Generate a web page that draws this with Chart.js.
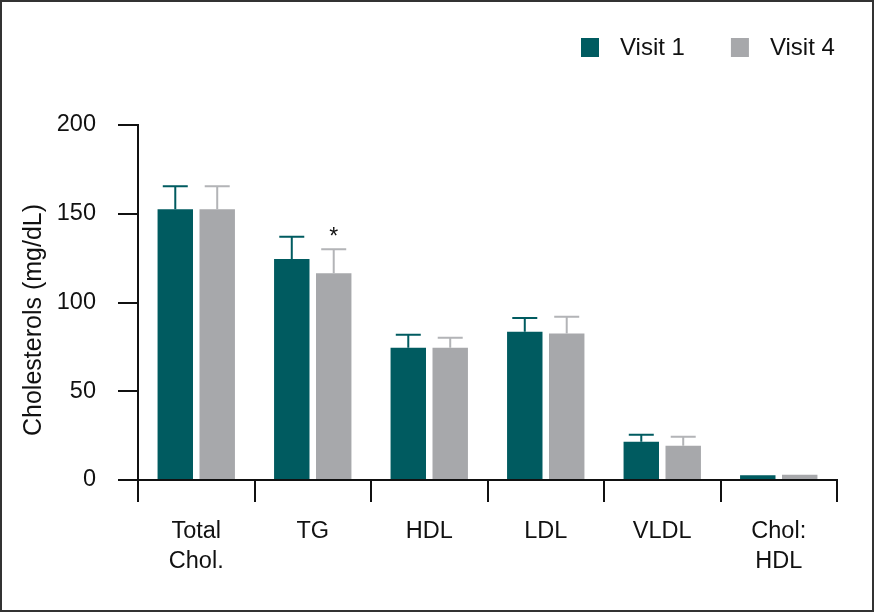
<!DOCTYPE html>
<html>
<head>
<meta charset="utf-8">
<script src="https://cdn.jsdelivr.net/npm/chart.js@4.4.1/dist/chart.umd.min.js"></script>
<style>
  html, body { margin: 0; padding: 0; background: #fff; }
  #wrap { width: 875px; height: 613px; }
</style>
</head>
<body>
<div id="wrap"><canvas id="chart" width="875" height="613"></canvas></div>
<script>
const categories = [['Total', 'Chol.'], 'TG', 'HDL', 'LDL', 'VLDL', ['Chol:', 'HDL']];
const visit1 = [152.5, 124.5, 74.5, 83.5, 21.5, 2.7];
const visit1Err = [13, 12.5, 7.3, 7.7, 4, 0];
const visit4 = [152.5, 116.5, 74.5, 82.5, 19.3, 3.0];
const visit4Err = [13, 13.5, 5.6, 9.5, 5, 0];
const yTicks = [0, 50, 100, 150, 200];
const starred = [{ dataset: 1, index: 1, text: '*' }];

const teal = '#005B60';
const grey = '#A7A8AB';
const ink = '#111111';
const font = 'Liberation Sans, Arial, sans-serif';

// error bars + significance marks
const errorBars = {
  id: 'errorBars',
  afterDatasetsDraw(chart) {
    const ctx = chart.ctx;
    const y = chart.scales.y;
    const errs = [visit1Err, visit4Err];
    const cols = [teal, '#B3B4B7'];
    chart.data.datasets.forEach((ds, di) => {
      chart.getDatasetMeta(di).data.forEach((bar, i) => {
        const err = errs[di][i];
        if (!err) return;
        const top = y.getPixelForValue(ds.data[i] + err);
        ctx.save();
        ctx.strokeStyle = cols[di];
        ctx.lineWidth = 2;
        ctx.beginPath();
        ctx.moveTo(bar.x, bar.y);
        ctx.lineTo(bar.x, top);
        ctx.moveTo(bar.x - 12.5, top);
        ctx.lineTo(bar.x + 12.5, top);
        ctx.stroke();
        ctx.restore();
      });
    });
    starred.forEach(s => {
      const bar = chart.getDatasetMeta(s.dataset).data[s.index];
      const v = chart.data.datasets[s.dataset].data[s.index] + errs[s.dataset][s.index];
      ctx.save();
      ctx.fillStyle = ink;
      ctx.font = '23px ' + font;
      ctx.textAlign = 'center';
      ctx.textBaseline = 'middle';
      ctx.fillText(s.text, bar.x, y.getPixelForValue(v) - 12);
      ctx.restore();
    });
  }
};

// legend, y title and frame
const decorations = {
  id: 'decorations',
  afterDraw(chart) {
    const ctx = chart.ctx;
    ctx.save();
    ctx.font = '24px ' + font;
    ctx.textBaseline = 'middle';
    ctx.fillStyle = ink;
    let x = 581;
    chart.data.datasets.forEach(ds => {
      ctx.fillStyle = ds.backgroundColor;
      ctx.fillRect(x, 38, 18, 19);
      ctx.fillStyle = ink;
      ctx.fillText(ds.label, x + 39, 48);
      x += 39 + ctx.measureText(ds.label).width + 46;
    });

    ctx.font = '25px ' + font;
    ctx.translate(34, 320);
    ctx.rotate(-Math.PI / 2);
    ctx.textAlign = 'center';
    ctx.fillText('Cholesterols (mg/dL)', 0, 0);
    ctx.restore();

    ctx.save();
    ctx.strokeStyle = '#333';
    ctx.lineWidth = 2;
    ctx.strokeRect(1, 1, 872, 610);
    ctx.restore();
  }
};

new Chart(document.getElementById('chart'), {
  type: 'bar',
  data: {
    labels: categories,
    datasets: [
      { label: 'Visit 1', data: visit1, backgroundColor: teal },
      { label: 'Visit 4', data: visit4, backgroundColor: grey }
    ]
  },
  options: {
    responsive: false,
    animation: false,
    layout: { padding: { top: 125, right: 38, left: 0, bottom: 0 } },
    datasets: { bar: { categoryPercentage: 0.72, barPercentage: 0.845 } },
    plugins: { legend: { display: false }, tooltip: { enabled: false } },
    scales: {
      x: {
        offset: true,
        grid: { offset: true, drawOnChartArea: false, tickLength: 22, color: ink, lineWidth: 2 },
        border: { color: ink, width: 2 },
        ticks: { color: ink, font: { family: font, size: 23.5, lineHeight: 1.27 }, padding: 15, maxRotation: 0 },
        afterFit(s) { s.height = 133; }
      },
      y: {
        min: 0,
        max: 200,
        afterBuildTicks(s) { s.ticks = yTicks.map(v => ({ value: v })); },
        grid: { drawOnChartArea: false, tickLength: 20, color: ink, lineWidth: 2 },
        border: { color: ink, width: 2 },
        ticks: { color: ink, font: { family: font, size: 23.5 }, padding: 22 },
        afterFit(s) { s.width = 138; }
      }
    }
  },
  plugins: [errorBars, decorations]
});
</script>
</body>
</html>
